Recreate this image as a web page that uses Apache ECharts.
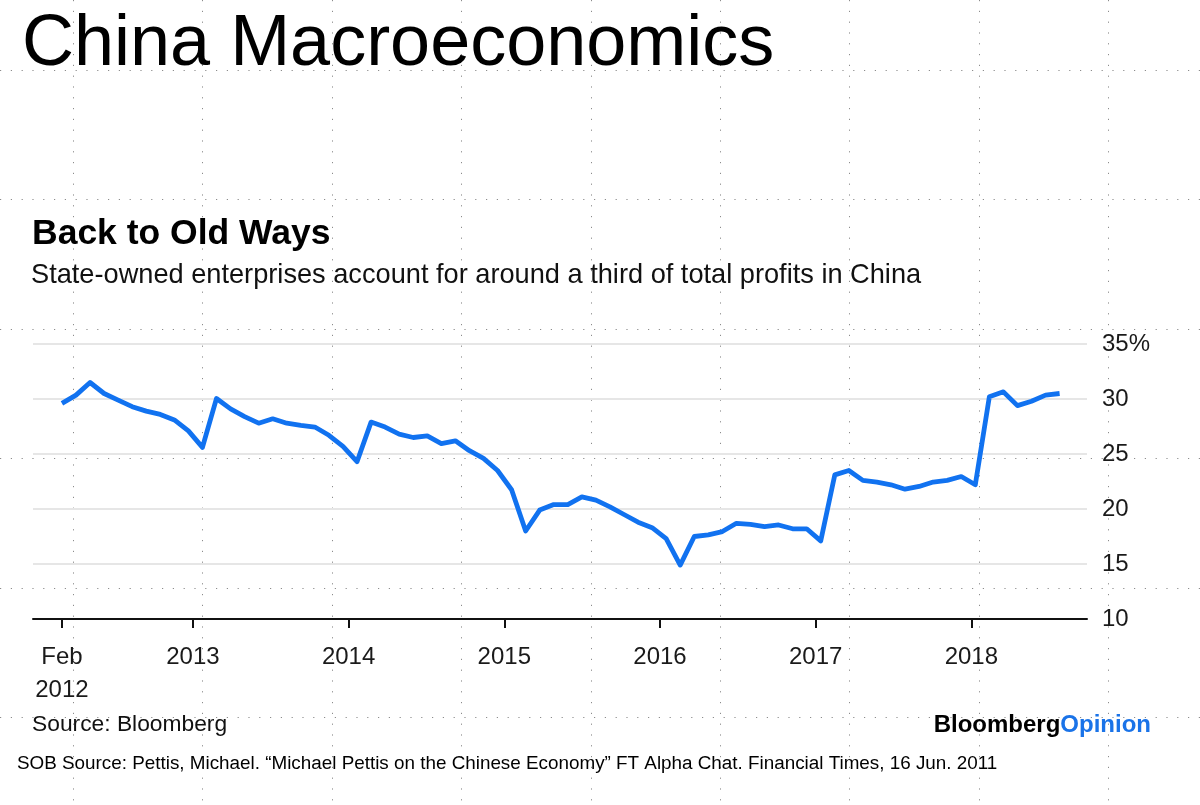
<!DOCTYPE html>
<html>
<head>
<meta charset="utf-8">
<script src="https://cdn.jsdelivr.net/npm/echarts@6/dist/echarts.min.js"></script>
<style>
html,body{margin:0;padding:0;background:#fff}
#c{width:1200px;height:805px}
</style>
</head>
<body>
<div id="c"></div>
<script>
// ---------------- DATA ----------------
// SOE share of total industrial profits (%), monthly YTD readings Feb..Dec (Jan combined with Feb)
const v2012 = [29.6, 30.35, 31.5, 30.5, 29.9, 29.3, 28.9, 28.6, 28.1, 27.1, 25.6];
const v2013 = [30.05, 29.1, 28.4, 27.8, 28.2, 27.8, 27.6, 27.45, 26.7, 25.7, 24.3];
const v2014 = [27.9, 27.45, 26.8, 26.5, 26.65, 25.95, 26.2, 25.3, 24.6, 23.5, 21.75];
const v2015 = [18.0, 19.9, 20.4, 20.4, 21.1, 20.8, 20.2, 19.5, 18.8, 18.3, 17.3];
const v2016 = [14.9, 17.5, 17.65, 17.95, 18.7, 18.6, 18.4, 18.55, 18.2, 18.2, 17.1];
const v2017 = [23.1, 23.5, 22.6, 22.45, 22.2, 21.8, 22.05, 22.45, 22.6, 22.95, 22.2];
const v2018 = [30.2, 30.65, 29.4, 29.8, 30.35, 30.5];

const startLabel = 'Feb\n2012';
const yearLabels = ['2013', '2014', '2015', '2016', '2017', '2018'];
const yTickLabels = { 35: '35%' };

// ---------------- BUILD ----------------
const values = [].concat(v2012, v2013, v2014, v2015, v2016, v2017, v2018);
const seriesData = values.map((v, i) => [i, v]);

// x axis in reading-index units; year boundaries fall between Dec and Feb readings
const firstYearTick = 9.32, yearStep = 11.08;
const tickPos = [0].concat(yearLabels.map((_, k) => +(firstYearTick + k * yearStep).toFixed(3)));
const tickText = [startLabel].concat(yearLabels);

const FONT = '"Liberation Sans", Arial, Helvetica, sans-serif';

// decorative dotted page grid
const deco = [];
const step = 129.4;
for (let x = 73; x < 1200; x += step) {
  deco.push({ type: 'line', silent: true, z: -10,
    shape: { x1: Math.round(x) + 0.5, y1: 0, x2: Math.round(x) + 0.5, y2: 805 },
    style: { stroke: '#8c8c8c', lineWidth: 1, lineDash: [1.2, 9.6] } });
}
for (let y = 70; y < 805; y += step) {
  deco.push({ type: 'line', silent: true, z: -10,
    shape: { x1: 0, y1: Math.round(y) + 0.5, x2: 1200, y2: Math.round(y) + 0.5 },
    style: { stroke: '#8c8c8c', lineWidth: 1, lineDash: [1.2, 9.6] } });
}

const texts = [
  { type: 'text', x: 22, y: 45, style: { text: 'China Macroeconomics', font: '72px ' + FONT, fill: '#000', textAlign: 'left', textVerticalAlign: 'middle' } },
  { type: 'text', x: 32, y: 234, style: { text: 'Back to Old Ways', font: 'bold 35.5px ' + FONT, fill: '#000', textAlign: 'left', textVerticalAlign: 'middle' } },
  { type: 'text', x: 31, y: 276, style: { text: 'State-owned enterprises account for around a third of total profits in China', font: '27.2px ' + FONT, fill: '#111', textAlign: 'left', textVerticalAlign: 'middle' } },
  { type: 'text', x: 32, y: 725, style: { text: 'Source: Bloomberg', font: '22.8px ' + FONT, fill: '#111', textAlign: 'left', textVerticalAlign: 'middle' } },
  { type: 'text', x: 1151, y: 725, style: {
      text: '{a|Bloomberg}{b|Opinion}', textAlign: 'right', textVerticalAlign: 'middle',
      rich: {
        a: { font: 'bold 24px ' + FONT, fill: '#000', color: '#000' },
        b: { font: 'bold 24px ' + FONT, fill: '#1a73e8', color: '#1a73e8' }
      } } },
  { type: 'text', x: 17, y: 764, style: { text: 'SOB Source: Pettis, Michael. \u201CMichael Pettis on the Chinese Economy\u201D FT Alpha Chat. Financial Times, 16 Jun. 2011', font: '18.85px ' + FONT, fill: '#000', textAlign: 'left', textVerticalAlign: 'middle' } }
];

const chart = echarts.init(document.getElementById('c'), null, { renderer: 'canvas' });
chart.setOption({
  animation: false,
  backgroundColor: '#fff',
  textStyle: { fontFamily: FONT },
  grid: { left: 33, right: 113, top: 344, bottom: 186, containLabel: false },
  xAxis: {
    type: 'value',
    min: -2.06,
    max: 72.95,
    splitLine: { show: false },
    axisLine: { show: true, lineStyle: { color: '#111', width: 2 } },
    axisTick: { show: true, customValues: tickPos, length: 9, lineStyle: { color: '#111', width: 2 } },
    axisLabel: {
      customValues: tickPos,
      formatter: function (val) {
        const k = tickPos.findIndex(p => Math.abs(p - val) < 1e-6);
        return k >= 0 ? tickText[k] : '';
      },
      fontSize: 24, color: '#1a1a1a', margin: 22, lineHeight: 33, fontFamily: FONT
    }
  },
  yAxis: {
    type: 'value',
    position: 'right',
    min: 10, max: 35, interval: 5,
    axisLine: { show: false },
    axisTick: { show: false },
    splitLine: { show: true, lineStyle: { color: '#e6e6e6', width: 2 } },
    axisLabel: {
      formatter: v => yTickLabels[v] || String(v),
      fontSize: 24, color: '#1a1a1a', margin: 15, fontFamily: FONT
    }
  },
  series: [{
    type: 'line',
    data: seriesData,
    showSymbol: false,
    lineStyle: { color: '#1172f0', width: 4.8, join: 'round' },
    itemStyle: { color: '#1172f0' },
    z: 5
  }],
  graphic: { elements: deco.concat(texts) }
});
</script>
</body>
</html>
